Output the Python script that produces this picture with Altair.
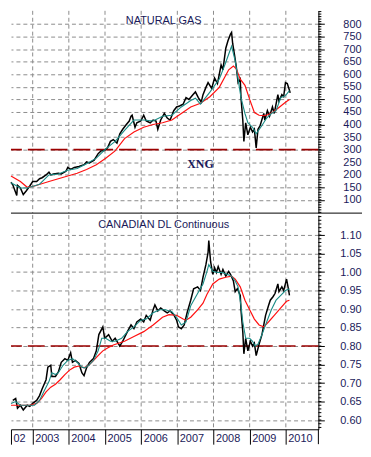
import altair as alt
import pandas as pd

# ---------------- data ----------------
years = [2003, 2004, 2005, 2006, 2007, 2008, 2009, 2010]
x_tick_values = [2002.4, 2003, 2004, 2005, 2006, 2007, 2008, 2009, 2010]

gas_t = [2002.40, 2002.45, 2002.56, 2002.58, 2002.66, 2002.74, 2002.82, 2002.92, 2003.00, 2003.11,
         2003.19, 2003.26, 2003.37, 2003.45, 2003.50, 2003.58, 2003.71, 2003.79, 2003.92, 2003.97,
         2004.05, 2004.15, 2004.28, 2004.42, 2004.49, 2004.57, 2004.70, 2004.81, 2004.89, 2004.97,
         2005.07, 2005.15, 2005.23, 2005.33, 2005.41, 2005.49, 2005.59, 2005.67, 2005.72, 2005.75,
         2005.83, 2005.88, 2005.99, 2006.07, 2006.14, 2006.25, 2006.33, 2006.41, 2006.46, 2006.54,
         2006.64, 2006.72, 2006.80, 2006.90, 2006.98, 2007.06, 2007.16, 2007.24, 2007.32, 2007.43,
         2007.50, 2007.58, 2007.66, 2007.71, 2007.79, 2007.85, 2007.95, 2008.03, 2008.11, 2008.21,
         2008.26, 2008.34, 2008.40, 2008.47, 2008.50, 2008.53, 2008.58, 2008.63, 2008.68, 2008.74,
         2008.76, 2008.81, 2008.84, 2008.89, 2008.95, 2009.02, 2009.08, 2009.13, 2009.18, 2009.23,
         2009.29, 2009.39, 2009.42, 2009.49, 2009.55, 2009.63, 2009.68, 2009.78, 2009.81, 2009.89,
         2009.94, 2009.99, 2010.04, 2010.10, 2010.12]
gas_price = [170, 160, 117, 158, 147, 121, 135, 155, 173, 173,
             184, 188, 199, 210, 199, 203, 206, 203, 214, 229,
             221, 229, 233, 240, 251, 247, 258, 284, 295, 295,
             307, 333, 340, 326, 363, 381, 400, 414, 433, 437,
             389, 407, 414, 437, 414, 407, 418, 414, 381, 418,
             444, 426, 418, 455, 470, 474, 481, 507, 500, 519,
             530, 507, 489, 519, 548, 567, 544, 585, 563, 637,
             618, 704, 734, 760, 767, 723, 679, 630, 567, 581,
             507, 418, 333, 407, 359, 389, 370, 381, 307, 381,
             396, 444, 418, 455, 433, 470, 444, 519, 493, 519,
             511, 567, 563, 537, 526]

gas_fast_t = [2002.40, 2002.66, 2002.85, 2003.19, 2003.45, 2003.71, 2003.97, 2004.23, 2004.49, 2004.76,
              2005.02, 2005.28, 2005.54, 2005.80, 2006.07, 2006.33, 2006.59, 2006.85, 2007.11, 2007.37,
              2007.50, 2007.64, 2007.90, 2008.16, 2008.32, 2008.50, 2008.60, 2008.68, 2008.76, 2008.87,
              2008.95, 2009.08, 2009.18, 2009.34, 2009.47, 2009.60, 2009.73, 2009.86, 2009.99, 2010.10]
gas_fast = [168, 147, 147, 162, 199, 203, 218, 225, 244, 266,
            303, 333, 377, 418, 418, 414, 433, 437, 470, 496,
            505, 481, 529, 581, 640, 712, 654, 581, 507, 444,
            407, 389, 363, 396, 426, 444, 455, 507, 515, 535]

gas_slow_t = [2002.40, 2002.66, 2002.85, 2003.05, 2003.45, 2003.71, 2003.97, 2004.23, 2004.49, 2004.76,
              2005.02, 2005.28, 2005.54, 2005.80, 2006.07, 2006.33, 2006.59, 2006.85, 2007.11, 2007.37,
              2007.64, 2007.90, 2008.16, 2008.42, 2008.55, 2008.63, 2008.74, 2008.87, 2009.00, 2009.13,
              2009.26, 2009.39, 2009.52, 2009.65, 2009.81, 2009.99, 2010.10]
gas_slow = [195, 173, 150, 155, 173, 184, 195, 206, 221, 240,
            266, 295, 344, 370, 389, 400, 407, 418, 444, 470,
            485, 511, 548, 618, 633, 622, 581, 556, 500, 448,
            437, 435, 440, 450, 468, 489, 500]

cad_t = [2002.45, 2002.53, 2002.58, 2002.66, 2002.74, 2002.85, 2002.92, 2003.00, 2003.11, 2003.19,
         2003.26, 2003.37, 2003.42, 2003.50, 2003.53, 2003.63, 2003.71, 2003.79, 2003.89, 2003.97,
         2004.05, 2004.10, 2004.18, 2004.28, 2004.36, 2004.42, 2004.49, 2004.57, 2004.68, 2004.76,
         2004.83, 2004.94, 2004.99, 2005.10, 2005.20, 2005.28, 2005.41, 2005.49, 2005.62, 2005.72,
         2005.80, 2005.88, 2005.99, 2006.07, 2006.14, 2006.25, 2006.33, 2006.38, 2006.46, 2006.54,
         2006.64, 2006.72, 2006.80, 2006.90, 2006.98, 2007.03, 2007.11, 2007.19, 2007.27, 2007.37,
         2007.45, 2007.56, 2007.64, 2007.71, 2007.79, 2007.85, 2007.87, 2007.92, 2007.98, 2008.03,
         2008.08, 2008.13, 2008.21, 2008.26, 2008.34, 2008.42, 2008.47, 2008.55, 2008.60, 2008.66,
         2008.74, 2008.76, 2008.81, 2008.84, 2008.89, 2008.95, 2009.02, 2009.08, 2009.13, 2009.18,
         2009.26, 2009.34, 2009.39, 2009.44, 2009.52, 2009.57, 2009.65, 2009.70, 2009.78, 2009.81,
         2009.89, 2009.94, 2010.02, 2010.07, 2010.10]
cad_price = [0.653, 0.658, 0.632, 0.640, 0.627, 0.640, 0.637, 0.645, 0.653, 0.666,
             0.684, 0.709, 0.743, 0.748, 0.718, 0.718, 0.730, 0.756, 0.766, 0.761,
             0.782, 0.756, 0.761, 0.753, 0.728, 0.720, 0.741, 0.756, 0.766, 0.787,
             0.831, 0.852, 0.821, 0.831, 0.813, 0.821, 0.800, 0.813, 0.839, 0.857,
             0.847, 0.865, 0.873, 0.865, 0.883, 0.870, 0.898, 0.911, 0.895, 0.903,
             0.895, 0.890, 0.895, 0.885, 0.870, 0.852, 0.847, 0.857, 0.890, 0.924,
             0.955, 0.960, 0.950, 0.986, 1.020, 1.053, 1.085, 1.028, 0.994, 1.012,
             0.999, 1.015, 0.994, 1.007, 0.989, 1.002, 0.994, 0.976, 0.947, 0.955,
             0.937, 0.898, 0.839, 0.779, 0.821, 0.787, 0.813, 0.800, 0.808, 0.774,
             0.805, 0.831, 0.857, 0.883, 0.909, 0.924, 0.934, 0.942, 0.968, 0.947,
             0.960, 0.950, 0.981, 0.955, 0.937]

cad_fast_t = [2002.40, 2002.53, 2002.66, 2002.92, 2003.05, 2003.19, 2003.32, 2003.45, 2003.53, 2003.63,
              2003.71, 2003.84, 2003.97, 2004.10, 2004.23, 2004.36, 2004.44, 2004.55, 2004.68, 2004.81,
              2004.91, 2005.02, 2005.15, 2005.28, 2005.46, 2005.62, 2005.80, 2005.99, 2006.14, 2006.33,
              2006.51, 2006.67, 2006.85, 2006.98, 2007.11, 2007.24, 2007.37, 2007.56, 2007.71, 2007.82,
              2007.87, 2007.98, 2008.11, 2008.24, 2008.37, 2008.50, 2008.60, 2008.68, 2008.76, 2008.81,
              2008.89, 2009.00, 2009.08, 2009.15, 2009.23, 2009.34, 2009.47, 2009.60, 2009.73, 2009.86,
              2009.99, 2010.10]
cad_fast = [0.645, 0.650, 0.640, 0.640, 0.640, 0.653, 0.679, 0.704, 0.728, 0.723,
            0.728, 0.748, 0.761, 0.766, 0.756, 0.743, 0.741, 0.748, 0.761, 0.787,
            0.821, 0.821, 0.813, 0.813, 0.821, 0.839, 0.852, 0.870, 0.873, 0.890,
            0.898, 0.898, 0.893, 0.878, 0.857, 0.865, 0.909, 0.942, 0.968, 1.002,
            1.020, 1.002, 0.999, 0.999, 0.994, 0.989, 0.976, 0.960, 0.909, 0.865,
            0.821, 0.821, 0.813, 0.800, 0.805, 0.831, 0.865, 0.898, 0.924, 0.937,
            0.950, 0.955]

cad_slow_t = [2002.40, 2002.66, 2002.92, 2003.11, 2003.24, 2003.37, 2003.50, 2003.63, 2003.76, 2003.89,
              2004.02, 2004.15, 2004.28, 2004.42, 2004.55, 2004.68, 2004.81, 2004.94, 2005.07, 2005.23,
              2005.54, 2005.80, 2006.07, 2006.33, 2006.59, 2006.77, 2006.98, 2007.16, 2007.24, 2007.37,
              2007.56, 2007.71, 2007.82, 2007.98, 2008.16, 2008.34, 2008.50, 2008.60, 2008.74, 2008.87,
              2009.00, 2009.13, 2009.26, 2009.39, 2009.52, 2009.68, 2009.86, 2010.02, 2010.10]
cad_slow = [0.640, 0.640, 0.640, 0.645, 0.658, 0.676, 0.689, 0.697, 0.709, 0.723,
            0.735, 0.743, 0.746, 0.741, 0.748, 0.761, 0.774, 0.787, 0.795, 0.803,
            0.813, 0.826, 0.839, 0.857, 0.878, 0.885, 0.883, 0.873, 0.870, 0.878,
            0.898, 0.916, 0.940, 0.968, 0.981, 0.986, 0.989, 0.981, 0.960, 0.924,
            0.898, 0.873, 0.857, 0.852, 0.865, 0.883, 0.903, 0.921, 0.924]

gas_ticks = [100, 150, 200, 250, 300, 350, 400, 450, 500, 550, 600, 650, 700, 750, 800]
cad_ticks = [0.60, 0.65, 0.70, 0.75, 0.80, 0.85, 0.90, 0.95, 1.00, 1.05, 1.10]
gas_minor = list(range(50, 851, 10))
cad_minor = [round(0.58 + 0.01 * i, 2) for i in range(58)]
gas_level = [300]
cad_level = [0.80]
gas_title = ["NATURAL GAS"]
cad_title = ["CANADIAN DL Continuous"]
gas_note = {"t": [2007.64], "v": [244], "label": ["XNG"]}

# ---------------- styling ----------------
W = 310
H_TOP = 204
H_BOT = 216
RIGHT = 354
TXT = "#1a1a5a"
FONT = "Liberation Sans"
GRID = "#8c8c8c"

xscale = alt.Scale(domain=[2002.40, 2010.90], nice=False, zero=False)
gas_scale = alt.Scale(domain=[47, 853], nice=False, zero=False)
cad_scale = alt.Scale(domain=[0.575, 1.154], nice=False, zero=False)

xaxis_bottom = alt.Axis(values=x_tick_values, title=None, grid=False,
                        labelExpr="datum.value < 2002.5 ? '02' : format(datum.value, 'd')",
                        domain=True, domainColor="black", domainWidth=1,
                        ticks=True, tickColor="black", tickSize=15, tickWidth=1,
                        labelAlign="left", labelBaseline="top", labelOffset=2, labelPadding=-12,
                        labelFlush=False, labelOverlap=False,
                        labelFont=FONT, labelFontSize=11, labelColor=TXT)


def yaxis(values, fmt):
    return alt.Axis(orient="right", values=values, format=fmt, title=None,
                    grid=True, gridColor=GRID, gridDash=[4, 3], gridWidth=1, gridOpacity=1,
                    domain=True, domainColor="black", domainWidth=1,
                    ticks=True, tickColor="black", tickSize=6,
                    labelAlign="right", labelBaseline="middle", labelPadding=37,
                    labelFont=FONT, labelFontSize=11, labelColor=TXT)


def panel(t_p, v_p, t_f, v_f, t_s, v_s, scale, axis, xaxis, minor, level, title, title_y):
    Y = lambda f: alt.Y(f, scale=scale, axis=axis)
    X = lambda f: alt.X(f, scale=xscale, axis=xaxis)
    grid_v = alt.Chart(pd.DataFrame({"yr": years})).mark_rule(
        color=GRID, strokeDash=[4, 3], strokeWidth=1, opacity=1).encode(x=X("yr:Q"))
    lvl = alt.Chart(pd.DataFrame({"v": level})).mark_rule(
        color="#9b0000", strokeDash=[17, 6], strokeWidth=1.6).encode(y=Y("v:Q"))
    price = alt.Chart(pd.DataFrame({"t": t_p, "v": v_p})).mark_line(
        color="black", strokeWidth=1.5).encode(x=X("t:Q"), y=Y("v:Q"))
    slow = alt.Chart(pd.DataFrame({"t": t_s, "v": v_s})).mark_line(
        color="#ff1010", strokeWidth=1.2).encode(x=X("t:Q"), y=Y("v:Q"))
    fast = alt.Chart(pd.DataFrame({"t": t_f, "v": v_f})).mark_line(
        color="#1a8c86", strokeWidth=1.1).encode(x=X("t:Q"), y=Y("v:Q"))
    mticks = alt.Chart(pd.DataFrame({"v": minor})).mark_rule(
        color="black", strokeWidth=1).encode(
        y=Y("v:Q"), x=alt.value(W), x2=alt.value(W + 3))
    ttl = alt.Chart(pd.DataFrame({"label": title})).mark_text(
        font=FONT, fontSize=11, color=TXT, align="center", baseline="middle").encode(
        text="label:N", x=alt.value(154), y=alt.value(title_y))
    return [grid_v, lvl, price, slow, fast, mticks, ttl]


top_layers = panel(gas_t, gas_price, gas_fast_t, gas_fast, gas_slow_t, gas_slow,
                   gas_scale, yaxis(gas_ticks, "d"), None, gas_minor, gas_level, gas_title, 10)
note = alt.Chart(pd.DataFrame(gas_note)).mark_text(
    font="Liberation Serif", fontWeight="bold", fontSize=12, color=TXT).encode(
    x=alt.X("t:Q", scale=xscale, axis=None),
    y=alt.Y("v:Q", scale=gas_scale, axis=yaxis(gas_ticks, "d")),
    text="label:N")
sep = alt.Chart(pd.DataFrame({"a": [0]})).mark_rule(color="black", strokeWidth=1).encode(
    x=alt.value(0), x2=alt.value(RIGHT), y=alt.value(H_TOP))
top = alt.layer(*top_layers, note, sep).properties(width=W, height=H_TOP)

bot_layers = panel(cad_t, cad_price, cad_fast_t, cad_fast, cad_slow_t, cad_slow,
                   cad_scale, yaxis(cad_ticks, ".2f"), xaxis_bottom, cad_minor, cad_level,
                   cad_title, 10)
ext = alt.Chart(pd.DataFrame({"a": [0]})).mark_rule(color="black", strokeWidth=1).encode(
    x=alt.value(W), y=alt.value(H_BOT), y2=alt.value(H_BOT + 15))
bottom = alt.layer(*bot_layers, ext).properties(width=W, height=H_BOT)

chart = (alt.vconcat(top, bottom, spacing=0)
         .properties(padding=0)
         .configure(padding=0)
         .configure_view(stroke=None))

chart.save("out.html", embed_options={"renderer": "svg", "actions": False})
